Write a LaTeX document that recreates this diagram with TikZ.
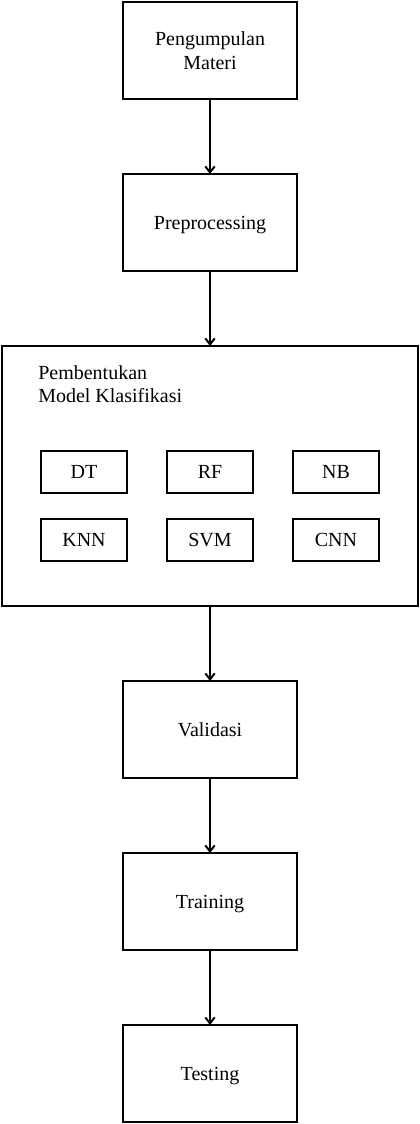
\documentclass[tikz,border=0pt]{standalone}
\usepackage{fontspec}
\setmainfont{Liberation Serif}
\usepackage{tikz}
\usetikzlibrary{arrows.meta,positioning}

\begin{document}
\begin{tikzpicture}[
  x=0.75pt,y=-0.75pt,
  font=\fontsize{15}{17.5}\selectfont,node distance=56.25pt,
  stagebox/.style={draw=black,line width=1.5pt,outer sep=0pt,align=center,
                   minimum width=130.5pt,minimum height=72.75pt,text depth=0pt},
  algo/.style={draw=black,line width=1.5pt,outer sep=0pt,
               minimum width=64.5pt,minimum height=31.5pt},
  arr/.style={-{Straight Barb[length=4.5pt,width=7pt]},line width=1.5pt}]
  \useasboundingbox (0,0) rectangle (420,1124);
  \node[stagebox] (materi) at (210,50.5) {Pengumpulan\\Materi};
  \node[stagebox,below=of materi] (prepro) {Preprocessing};
  \node[stagebox,below=of prepro,minimum width=312pt,minimum height=195pt] (model) {};
  \node[below right=14.25pt and 27pt of model.north west,anchor=north west,
        inner sep=0pt,align=left] (judul) {Pembentukan\\Model Klasifikasi};
  \node[algo,below=78.75pt of model.north] (rf) {RF};
  \node[algo,left=30pt of rf] (dt) {DT};
  \node[algo,right=30pt of rf] (nb) {NB};
  \node[algo,below=19.5pt of dt] (knn) {KNN};
  \node[algo,below=19.5pt of rf] (svm) {SVM};
  \node[algo,below=19.5pt of nb] (cnn) {CNN};
  \node[stagebox,below=of model] (validasi) {Validasi};
  \node[stagebox,below=of validasi] (training) {Training};
  \node[stagebox,below=of training] (testing) {Testing};
  \foreach \a/\b in {materi/prepro,prepro/model,model/validasi,validasi/training,training/testing}
     \draw[arr] (\a.south) -- (\b.north);
\end{tikzpicture}
\end{document}
